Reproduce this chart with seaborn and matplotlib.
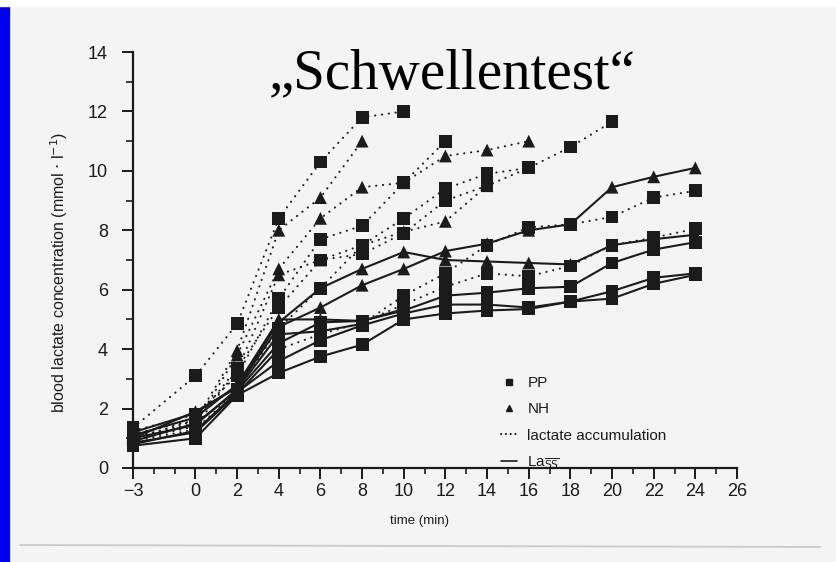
import matplotlib
matplotlib.use("Agg")
import matplotlib.pyplot as plt
from matplotlib.lines import Line2D
from matplotlib.patches import Rectangle
from matplotlib.ticker import MultipleLocator, FixedLocator
import pandas as pd
import seaborn as sns

# Stage times (min); -3 is the resting sample before the test
TIMES = [-3, 0, 2, 4, 6, 8, 10, 12, 14, 16, 18, 20, 22, 24]

# Blood lactate (mmol/l) per subject, one value per stage from -3 min on
A_PP = [1.35, 3.1, 4.85, 8.4, 10.3, 11.8, 12.0]
B_NH = [1.15, 1.6, 3.95, 8.0, 9.1, 11.0]
C_NH = [1.05, 1.5, 3.8, 6.7, 8.4, 9.45, 9.6, 10.5, 10.7, 11.0]
D_NH = [0.95, 1.4, 3.3, 6.5, 7.0, 7.5, 7.95, 8.3, 9.5]
E_PP = [1.25, 1.8, 3.1, 5.7, 7.7, 8.15, 9.6, 11.0]
F_PP = [1.0, 1.6, 3.35, 5.4, 7.0, 7.2, 7.9, 9.0, 9.5, 10.1]
G_PP = [0.9, 1.3, 2.6, 4.7, 6.05, 7.5, 8.4, 9.4, 9.9, 10.1, 10.8, 11.65]
H_PP = [0.85, 1.2, 2.5, 4.0, 4.5, 4.9, 5.5, 6.1, 6.55, 6.45, 6.8, 7.5, 7.75, 8.05]
I_PP = [1.0, 1.45, 2.65, 4.5, 4.6, 4.85, 5.8, 6.55, 7.5, 8.1, 8.2, 8.45, 9.1, 9.33]
J_NH = [1.0, 1.9, 2.7, 4.75, 5.4, 6.15, 6.7, 7.3, 7.55, 8.0, 8.2, 9.45, 9.8, 10.1]
K_NH = [1.2, 1.85, 2.75, 4.9, 6.05, 6.7, 7.27, 7.0, 6.95, 6.9, 6.85, 7.5, 7.7, 7.85]
L_PP = [0.9, 1.5, 2.6, 4.2, 4.9, 4.95, 5.3, 5.8, 5.9, 6.05, 6.1, 6.9, 7.35, 7.6]
M_PP = [0.75, 1.0, 2.45, 3.2, 3.75, 4.15, 5.0, 5.2, 5.3, 5.35, 5.6, 5.7, 6.2, 6.5]
N_PP = [0.8, 1.25, 2.55, 3.6, 4.3, 4.8, 5.2, 5.5, 5.5, 5.4, 5.6, 5.95, 6.4, 6.55]
O_NH = [1.1, 1.7, 2.8, 5.0, 5.0, 4.95, 5.35]

# subject, group, values, time from which lactate accumulates (None = steady state)
SUBJECTS = [
    ("A", "PP", A_PP, -3), ("B", "NH", B_NH, -3), ("C", "NH", C_NH, -3),
    ("D", "NH", D_NH, -3), ("E", "PP", E_PP, -3), ("F", "PP", F_PP, -3),
    ("G", "PP", G_PP, -3), ("H", "PP", H_PP, 4), ("I", "PP", I_PP, 8),
    ("J", "NH", J_NH, None), ("K", "NH", K_NH, None), ("L", "PP", L_PP, None),
    ("M", "PP", M_PP, None), ("N", "PP", N_PP, None), ("O", "NH", O_NH, None),
]

X_TICKS = [-3, 0, 2, 4, 6, 8, 10, 12, 14, 16, 18, 20, 22, 24, 26]
Y_TICKS = [0, 2, 4, 6, 8, 10, 12, 14]

points, lines = [], []
for name, group, vals, onset in SUBJECTS:
    t = TIMES[:len(vals)]
    for ti, v in zip(t, vals):
        points.append({"subject": name, "group": group, "time": ti, "lactate": v})
    k = len(t) - 1 if onset is None else t.index(onset)
    if k > 0:
        for ti, v in zip(t[:k + 1], vals[:k + 1]):
            lines.append({"seg": name + "-s", "phase": "steady", "time": ti, "lactate": v})
    if onset is not None:
        for ti, v in zip(t[k:], vals[k:]):
            lines.append({"seg": name + "-a", "phase": "accum", "time": ti, "lactate": v})

pts = pd.DataFrame(points)
pts["order"] = pts["group"].map({"NH": 0, "PP": 1})
pts = pts.sort_values("order", kind="stable")
lns = pd.DataFrame(lines)

sns.set_style("white")
plt.rcParams["font.family"] = ["Liberation Sans", "DejaVu Sans"]
plt.rcParams["mathtext.fontset"] = "dejavusans"

BG = "#f4f4f4"
INK = "#1b1b1b"

fig = plt.figure(figsize=(8.36, 5.62), dpi=100, facecolor=BG)
fig.patches.append(Rectangle((0, 0), 9 / 836, 1, transform=fig.transFigure,
                             color="#0000f0", zorder=0))
fig.patches.append(Rectangle((0, 1 - 6 / 562), 1, 6 / 562, transform=fig.transFigure,
                             color="white", zorder=0))
fig.lines.append(Line2D([20 / 836, 820 / 836], [1 - 545 / 562, 1 - 547 / 562],
                        transform=fig.transFigure, color="#c9c9c9", lw=1.3))

ax = fig.add_axes([133 / 836, 94 / 562, 604 / 836, 416 / 562])
ax.set_facecolor(BG)

sns.lineplot(data=lns, x="time", y="lactate", units="seg", estimator=None,
             style="phase", dashes={"steady": "", "accum": (0.1, 3.2)},
             color=INK, lw=1.5, dash_capstyle="round", sort=False,
             legend=False, ax=ax)
sns.scatterplot(data=pts, x="time", y="lactate", style="group",
                markers={"PP": "s", "NH": "^"}, s=85, color=INK,
                edgecolor=INK, linewidth=0, legend=False, zorder=4,
                clip_on=False, ax=ax)

ax.set_xlim(-3, 26)
ax.set_ylim(0, 14)
for side in ("top", "right"):
    ax.spines[side].set_visible(False)
for side in ("left", "bottom"):
    ax.spines[side].set_linewidth(1.6)
    ax.spines[side].set_color(INK)

ax.xaxis.set_major_locator(FixedLocator(X_TICKS))
ax.xaxis.set_minor_locator(MultipleLocator(1))
ax.yaxis.set_major_locator(FixedLocator(Y_TICKS))
ax.yaxis.set_minor_locator(MultipleLocator(1))
ax.set_xticklabels(["\u22123" if v < 0 else str(v) for v in X_TICKS])
ax.tick_params(axis="x", which="major", direction="out", length=8, width=1.4,
               pad=3, labelsize=13, colors=INK, bottom=True)
ax.tick_params(axis="x", which="minor", direction="out", length=4, width=1.2,
               colors=INK, bottom=True)
ax.tick_params(axis="y", which="major", direction="out", length=8, width=1.4,
               pad=10, labelsize=13, colors=INK, left=True)
ax.tick_params(axis="y", which="minor", direction="out", length=5, width=1.2,
               colors=INK, left=True)

ax.set_xlabel("time (min)", fontsize=9.5, color=INK)
ax.xaxis.set_label_coords(0.475, -0.112)
ax.set_ylabel(r"blood lactate concentration (mmol $\cdot$ l$^{-1}$)",
              fontsize=11.5, color=INK)
ax.yaxis.set_label_coords(-0.105, 0.47)

handles = [
    Line2D([], [], marker="s", ls="none", color=INK, ms=5),
    Line2D([], [], marker="^", ls="none", color=INK, ms=5),
    Line2D([], [], ls=(0, (0.1, 2.2)), lw=1.5, color=INK, dash_capstyle="round"),
    Line2D([], [], ls="-", lw=1.2, color=INK),
]
labels = ["PP", "NH", "lactate accumulation", r"La$_{\overline{\mathrm{SS}}}$"]
ax.legend(handles, labels, loc="upper left", bbox_to_anchor=(0.61, 0.221),
          frameon=False, handlelength=1.0, handletextpad=0.7,
          labelspacing=0.8, fontsize=11, borderpad=0, borderaxespad=0,
          labelcolor=INK)

fig.text(452 / 836, 1 - 88 / 562, "\u201eSchwellentest\u201c", ha="center",
         va="baseline", fontsize=41, family="Liberation Serif", color="black")

fig.savefig("out.png", dpi=100, facecolor=BG)
